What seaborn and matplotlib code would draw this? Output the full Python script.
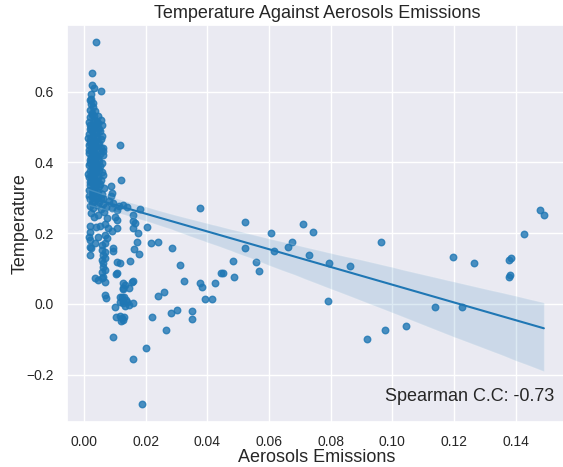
import matplotlib
matplotlib.use("Agg")
import matplotlib.pyplot as plt
import seaborn as sns
import pandas as pd
import numpy as np

# Aerosols emissions (x) and temperature (y)
aerosols = [
    # sparse top of dense column
    0.0038, 0.0025, 0.0026, 0.0032, 0.0055, 0.0022, 0.0024, 0.0023, 0.0030, 0.0025,
    0.0031, 0.0020, 0.0035, 0.0042, 0.0054, 0.0047,
    # dense blob
    0.0021, 0.0033, 0.0045, 0.0018, 0.0027, 0.0052, 0.0039, 0.0015, 0.0030, 0.0058,
    0.0024, 0.0043, 0.0019, 0.0036, 0.0050, 0.0026, 0.0016, 0.0040, 0.0031, 0.0056,
    0.0022, 0.0047, 0.0034, 0.0017, 0.0028, 0.0061, 0.0041, 0.0023, 0.0035, 0.0019,
    0.0049, 0.0029, 0.0038, 0.0016, 0.0053, 0.0025, 0.0044, 0.0032, 0.0020, 0.0060,
    0.0037, 0.0027, 0.0046, 0.0017, 0.0033, 0.0055, 0.0023, 0.0041, 0.0030, 0.0019,
    0.0048, 0.0036, 0.0026, 0.0015, 0.0043, 0.0031, 0.0057, 0.0022, 0.0039, 0.0028,
    0.0019, 0.0028, 0.0021, 0.0036, 0.0027, 0.0044, 0.0016, 0.0029, 0.0038, 0.0060,
    0.0024, 0.0048, 0.0035, 0.0013, 0.0041, 0.0055, 0.0029, 0.0020, 0.0045, 0.0034,
    0.0063, 0.0026, 0.0015, 0.0052, 0.0038, 0.0022, 0.0046, 0.0031, 0.0058, 0.0018,
    0.0042, 0.0027, 0.0050, 0.0035, 0.0014, 0.0062, 0.0024, 0.0044, 0.0031, 0.0019,
    0.0053, 0.0039, 0.0065, 0.0023, 0.0047, 0.0033, 0.0016, 0.0061, 0.0042, 0.0026,
    0.0118, 0.0063, 0.0119, 0.0087, 0.0091, 0.0089, 0.0054,
    # lower column
    0.0020, 0.0034, 0.0050, 0.0025, 0.0062, 0.0041, 0.0018, 0.0072, 0.0030, 0.0056,
    0.0090, 0.0106, 0.0127, 0.0138, 0.0160, 0.0100, 0.0074, 0.0106, 0.0160, 0.0165,
    0.0022, 0.0045, 0.0033, 0.0064, 0.0082, 0.0095, 0.0115,
    0.0020, 0.0040, 0.0053, 0.0068, 0.0078, 0.0106, 0.0090, 0.0160, 0.0176, 0.0020,
    0.0017, 0.0046, 0.0068, 0.0074, 0.0036, 0.0057, 0.0068, 0.0022, 0.0095, 0.0093,
    0.0057, 0.0068, 0.0063, 0.0020, 0.0162, 0.0173, 0.0180, 0.0057, 0.0068, 0.0063,
    0.0106, 0.0117, 0.0149, 0.0019, 0.0021,
    0.0063, 0.0068, 0.0057, 0.0106, 0.0104, 0.0036, 0.0046, 0.0057, 0.0063, 0.0068,
    0.0127, 0.0155, 0.0160, 0.0127, 0.0133, 0.0147, 0.0125, 0.0068, 0.0073,
    0.0116, 0.0122, 0.0130, 0.0135, 0.0125, 0.0118, 0.0128, 0.0140, 0.0147, 0.0160,
    0.0134, 0.0100, 0.0103, 0.0117, 0.0124, 0.0130, 0.0127, 0.0121, 0.0095, 0.0159,
    # scattered mid range
    0.0182, 0.0377, 0.0205, 0.0218, 0.0239, 0.0285, 0.0312, 0.0324, 0.0239, 0.0259,
    0.0219, 0.0266, 0.0283, 0.0301, 0.0351, 0.0349, 0.0201, 0.0189, 0.0375, 0.0383,
    0.0394, 0.0415, 0.0425, 0.0444, 0.0450, 0.0482, 0.0486, 0.0523, 0.0523, 0.0559,
    0.0567, 0.0607, 0.0617, 0.0660, 0.0673, 0.0710, 0.0741, 0.0731,
    # right side
    0.0794, 0.0792, 0.0863, 0.0964, 0.0917, 0.0976, 0.1043, 0.1139, 0.1196, 0.1227,
    0.1263, 0.1378, 0.1384, 0.1378, 0.1382, 0.1426, 0.1480, 0.1491,
]

temperature = [
    0.740, 0.653, 0.619, 0.609, 0.602, 0.593, 0.580, 0.565, 0.555, 0.540,
    0.530, 0.527, 0.520, 0.515, 0.520, 0.510,
    0.505, 0.502, 0.498, 0.494, 0.490, 0.488, 0.484, 0.480, 0.477, 0.474,
    0.470, 0.467, 0.463, 0.460, 0.456, 0.452, 0.449, 0.446, 0.442, 0.440,
    0.437, 0.433, 0.430, 0.426, 0.423, 0.420, 0.417, 0.413, 0.410, 0.406,
    0.403, 0.400, 0.396, 0.392, 0.390, 0.386, 0.383, 0.379, 0.375, 0.373,
    0.369, 0.366, 0.362, 0.358, 0.355, 0.351, 0.348, 0.344, 0.341, 0.337,
    0.333, 0.330, 0.326, 0.322, 0.319, 0.315, 0.312, 0.309, 0.305, 0.302,
    0.575, 0.568, 0.548, 0.545, 0.535, 0.530, 0.515, 0.512, 0.508, 0.505,
    0.497, 0.493, 0.487, 0.470, 0.472, 0.465, 0.458, 0.455, 0.450, 0.445,
    0.432, 0.428, 0.435, 0.425, 0.420, 0.415, 0.410, 0.405, 0.398, 0.398,
    0.390, 0.380, 0.378, 0.372, 0.368, 0.365, 0.360, 0.355, 0.350, 0.345,
    0.340, 0.335, 0.328, 0.320, 0.316, 0.310, 0.306, 0.300, 0.298, 0.310,
    0.449, 0.442, 0.349, 0.334, 0.313, 0.305, 0.300,
    0.296, 0.292, 0.289, 0.285, 0.283, 0.280, 0.276, 0.274, 0.270, 0.268,
    0.270, 0.265, 0.280, 0.275, 0.251, 0.247, 0.242, 0.237, 0.233, 0.228,
    0.258, 0.252, 0.245, 0.260, 0.290, 0.285, 0.278,
    0.220, 0.218, 0.220, 0.225, 0.215, 0.214, 0.205, 0.214, 0.200, 0.204,
    0.190, 0.190, 0.195, 0.186, 0.171, 0.167, 0.171, 0.157, 0.157, 0.150,
    0.153, 0.148, 0.138, 0.138, 0.155, 0.174, 0.141, 0.124, 0.129, 0.115,
    0.120, 0.115, 0.121, 0.180, 0.160,
    0.105, 0.096, 0.091, 0.087, 0.084, 0.073, 0.068, 0.073, 0.077, 0.063,
    0.058, 0.063, 0.065, 0.044, 0.054, 0.046, 0.0415, 0.025, 0.018,
    0.021, 0.019, 0.020, 0.012, 0.008, 0.005, 0.002, 0.006, -0.003, 0.003,
    -0.005, -0.009, -0.036, -0.035, -0.040, -0.036, -0.046, -0.048, -0.092, -0.155,
    0.268, 0.270, 0.2175, 0.173, 0.175, 0.159, 0.111, 0.064, 0.0235, 0.033,
    -0.037, -0.073, -0.0245, -0.017, -0.021, -0.042, -0.124, -0.283, 0.060, 0.049,
    0.013, 0.013, 0.060, 0.0876, 0.0876, 0.122, 0.076, 0.2325, 0.157, 0.120,
    0.093, 0.200, 0.149, 0.161, 0.175, 0.225, 0.204, 0.1375,
    0.117, 0.0076, 0.107, 0.175, -0.099, -0.073, -0.062, -0.0076, 0.133, -0.0094,
    0.117, 0.123, 0.131, 0.077, 0.083, 0.199, 0.266, 0.250,
]

spearman_text = "Spearman C.C: -0.73"

df = pd.DataFrame({"Aerosols Emissions": aerosols, "Temperature": temperature})

sns.set_theme(style="darkgrid")
plt.rcParams["font.family"] = ["Liberation Sans", "DejaVu Sans"]

fig = plt.figure(figsize=(5.63, 4.67), dpi=100)
ax = fig.add_axes([67 / 563, 45 / 467, 500 / 563, 397 / 467])

sns.regplot(data=df, x="Aerosols Emissions", y="Temperature", ax=ax,
            color="#1f77b4", seed=3,
            scatter_kws={"s": 22}, line_kws={"linewidth": 1.5})

ax.set_xlim(-0.0055, 0.1566)
ax.set_ylim(-0.3333, 0.788)
ax.set_xticks([0.00, 0.02, 0.04, 0.06, 0.08, 0.10, 0.12, 0.14])
ax.set_yticks([-0.2, 0.0, 0.2, 0.4, 0.6])
ax.tick_params(labelsize=10)
ax.set_xlabel("Aerosols Emissions", fontsize=13, labelpad=0)
ax.set_ylabel("Temperature", fontsize=13, labelpad=-2)
ax.set_title("Temperature Against Aerosols Emissions", fontsize=13, pad=5)
ax.text(0.974, 0.053, spearman_text, transform=ax.transAxes,
        ha="right", va="baseline", fontsize=13)

fig.savefig("out.png", dpi=100)
